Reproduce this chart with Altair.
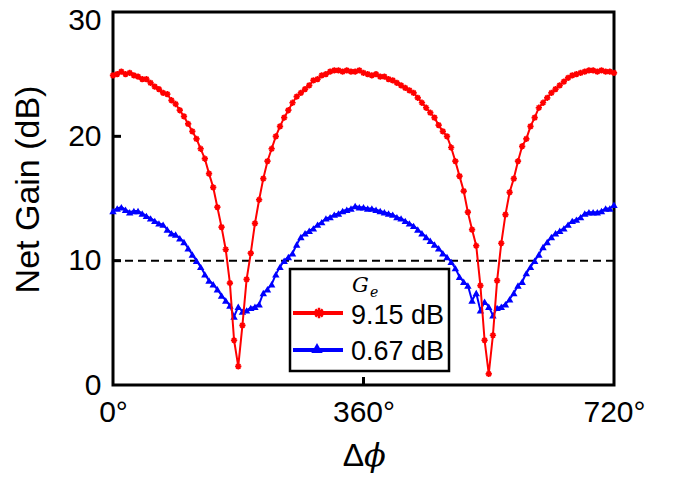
import altair as alt
import pandas as pd

# ---------------- data ----------------
angles = list(range(0, 721, 6))  # phase difference, degrees

red_gain = [
    24.9, 25.0, 25.2, 25.0, 25.1, 24.9, 24.8, 24.6, 24.6, 24.3,
    24.0, 23.8, 23.5, 23.4, 22.9, 22.6, 22.1, 21.6, 21.0, 20.4,
    19.8, 19.0, 18.2, 17.0, 15.9, 14.3, 12.7, 10.9, 8.2, 3.6,
    1.5, 4.8, 8.5, 10.6, 13.0, 14.9, 16.6, 18.0, 19.0, 20.0,
    20.8, 21.5, 22.1, 22.7, 23.2, 23.5, 23.8, 24.1, 24.5, 24.6,
    24.9, 25.0, 25.2, 25.3, 25.3, 25.2, 25.3, 25.2, 25.2, 25.3,
    25.1, 25.0, 24.9, 25.0, 24.8, 24.8, 24.6, 24.5, 24.3, 24.1,
    23.9, 23.7, 23.5, 23.1, 22.7, 22.3, 21.9, 21.5, 20.9, 20.4,
    20.0, 19.1, 18.0, 16.8, 15.6, 13.9, 12.5, 11.2, 8.0, 3.6,
    0.9, 4.0, 8.4, 11.4, 13.7, 15.5, 16.6, 18.0, 19.2, 19.8,
    20.8, 21.5, 22.3, 22.7, 23.1, 23.5, 23.8, 24.1, 24.4, 24.7,
    24.9, 25.0, 25.1, 25.2, 25.3, 25.3, 25.2, 25.3, 25.2, 25.2,
    25.1,
]

blue_gain = [
    14.0, 14.2, 14.3, 14.1, 13.9, 14.0, 14.0, 13.8, 13.6, 13.4,
    13.2, 13.0, 12.9, 12.5, 12.2, 12.1, 11.8, 11.5, 11.0, 10.5,
    10.0, 9.5, 8.9, 8.4, 8.1, 7.7, 7.2, 6.8, 6.4, 5.5,
    6.3, 5.9, 6.0, 6.2, 6.3, 6.5, 7.4, 7.7, 8.1, 8.9,
    9.5, 10.0, 10.3, 10.6, 11.3, 11.9, 12.2, 12.4, 12.6, 12.9,
    13.1, 13.4, 13.5, 13.7, 13.8, 14.0, 14.1, 14.2, 14.4, 14.3,
    14.3, 14.2, 14.2, 14.1, 14.0, 13.9, 13.8, 13.7, 13.5, 13.4,
    13.2, 13.0, 12.8, 12.5, 12.2, 11.9, 11.6, 11.3, 11.0, 10.6,
    10.3, 9.9, 9.4, 8.7, 8.3, 8.0, 6.8, 7.4, 6.0, 6.7,
    6.3, 5.6, 6.2, 6.3, 6.5, 6.9, 7.4, 8.0, 8.3, 9.0,
    9.5, 10.0, 10.5, 11.1, 11.5, 11.9, 12.2, 12.4, 12.6, 12.9,
    13.2, 13.3, 13.5, 13.8, 13.9, 13.9, 13.9, 14.0, 14.2, 14.2,
    14.5,
]

series_names = ["9.15 dB", "0.67 dB"]
legend_title = "G"
legend_title_sub = "e"
x_title_delta = "Δ"
x_title_phi = "ϕ"
y_title = "Net Gain (dB)"
reference_level = [10]
y_tick_values = [0, 10, 20, 30]
x_tick_values = [0, 360, 720]
inner_y_ticks = [10, 20]
inner_x_ticks = [360]

RED = "#ff0000"
BLUE = "#0000ff"
FONT = "Liberation Sans"
ASTERISK = "M0,-1L0,1M-1,0L1,0M-0.7,-0.7L0.7,0.7M-0.7,0.7L0.7,-0.7"

red_df = pd.DataFrame({"angle": angles, "gain": red_gain})
blue_df = pd.DataFrame({"angle": angles, "gain": blue_gain})

x_enc = alt.X(
    "angle:Q",
    scale=alt.Scale(domain=[0, 720], nice=False, zero=False),
    axis=alt.Axis(
        values=x_tick_values,
        labelExpr="datum.value + '°'",
        title=None,
        labelPadding=12,
        labelFlush=False,
    ),
)
y_enc = alt.Y(
    "gain:Q",
    scale=alt.Scale(domain=[0, 30], nice=False),
    axis=alt.Axis(
        values=y_tick_values,
        title=y_title,
        titleX=-68,
        titleY=177,
        labelPadding=12,
        labelFlush=False,
        labelOffset={"condition": {"test": "datum.value == 30", "value": 8}, "value": 0},
    ),
)

blue_line = alt.Chart(blue_df).mark_line(color=BLUE, strokeWidth=2).encode(x=x_enc, y=y_enc)
blue_pts = alt.Chart(blue_df).mark_point(
    shape="triangle-up", filled=True, color=BLUE, size=55, opacity=1
).encode(x=x_enc, y=y_enc)

red_line = alt.Chart(red_df).mark_line(color=RED, strokeWidth=2).encode(x=x_enc, y=y_enc)
red_pts = alt.Chart(red_df).mark_point(
    shape=ASTERISK, filled=False, stroke=RED, strokeWidth=1.7, size=40, opacity=1
).encode(x=x_enc, y=y_enc)

ref_line = alt.Chart(pd.DataFrame({"gain": reference_level})).mark_rule(
    color="black", strokeWidth=2, strokeDash=[8, 5]
).encode(y=y_enc)

ytick_layer = alt.Chart(pd.DataFrame({"gain": inner_y_ticks})).mark_rule(
    color="black", strokeWidth=3
).encode(y=y_enc, x=alt.value(0), x2=alt.value(8))
xtick_layer = alt.Chart(pd.DataFrame({"angle": inner_x_ticks})).mark_rule(
    color="black", strokeWidth=3
).encode(x=x_enc, y=alt.value(373), y2=alt.value(365))

one = pd.DataFrame({"a": [0]})

# ---------------- x-axis title: upright Delta + italic phi ----------------
xt_delta = alt.Chart(one).mark_text(
    font=FONT, fontSize=32, align="right", baseline="alphabetic", color="black"
).encode(x=alt.value(251), y=alt.value(454), text=alt.value(x_title_delta))
xt_phi = alt.Chart(one).mark_text(
    font="DejaVu Serif", fontStyle="italic", fontSize=32, align="left",
    baseline="alphabetic", color="black"
).encode(x=alt.value(251), y=alt.value(454), text=alt.value(x_title_phi))

# ---------------- legend (drawn as decoration) ----------------
leg_box = alt.Chart(one).mark_rect(fill="white", stroke="black", strokeWidth=2.5).encode(
    x=alt.value(177), x2=alt.value(336), y=alt.value(257), y2=alt.value(359)
)
leg_title = alt.Chart(one).mark_text(
    font="DejaVu Serif", fontStyle="italic", fontSize=21, align="left", baseline="alphabetic"
).encode(x=alt.value(239), y=alt.value(280), text=alt.value(legend_title))
leg_title_sub = alt.Chart(one).mark_text(
    font="DejaVu Serif", fontStyle="italic", fontSize=14, align="left", baseline="alphabetic"
).encode(x=alt.value(257), y=alt.value(285), text=alt.value(legend_title_sub))

leg_red_line = alt.Chart(one).mark_rule(color=RED, strokeWidth=4).encode(
    x=alt.value(180), x2=alt.value(230), y=alt.value(301)
)
leg_red_pt = alt.Chart(one).mark_point(
    shape=ASTERISK, filled=False, stroke=RED, strokeWidth=2.5, size=110, opacity=1
).encode(x=alt.value(206), y=alt.value(301))
leg_red_txt = alt.Chart(one).mark_text(
    font=FONT, fontSize=27, align="left", baseline="middle", color="black"
).encode(x=alt.value(238), y=alt.value(304), text=alt.value(series_names[0]))

leg_blue_line = alt.Chart(one).mark_rule(color=BLUE, strokeWidth=4).encode(
    x=alt.value(180), x2=alt.value(230), y=alt.value(338)
)
leg_blue_pt = alt.Chart(one).mark_point(
    shape="triangle-up", filled=True, color=BLUE, size=130, opacity=1
).encode(x=alt.value(204), y=alt.value(336))
leg_blue_txt = alt.Chart(one).mark_text(
    font=FONT, fontSize=27, align="left", baseline="middle", color="black"
).encode(x=alt.value(238), y=alt.value(340), text=alt.value(series_names[1]))

chart = alt.layer(
    ref_line, blue_line, blue_pts, red_line, red_pts, ytick_layer, xtick_layer,
    xt_delta, xt_phi,
    leg_box, leg_title, leg_title_sub,
    leg_red_line, leg_red_pt, leg_red_txt,
    leg_blue_line, leg_blue_pt, leg_blue_txt,
).properties(
    width=501,
    height=373,
    background="white",
    autosize=alt.AutoSizeParams(type="none"),
    padding={"left": 105, "top": 4, "right": 50, "bottom": 92},
).configure_view(
    stroke="black", strokeWidth=3
).configure_axis(
    domain=False,
    ticks=False,
    grid=False,
    labelFont=FONT,
    titleFont=FONT,
    labelFontSize=30,
    titleFontSize=34,
    labelColor="black",
    titleColor="black",
    titleFontWeight="normal",
)

chart.save("out.html", embed_options={"renderer": "svg", "actions": False})
